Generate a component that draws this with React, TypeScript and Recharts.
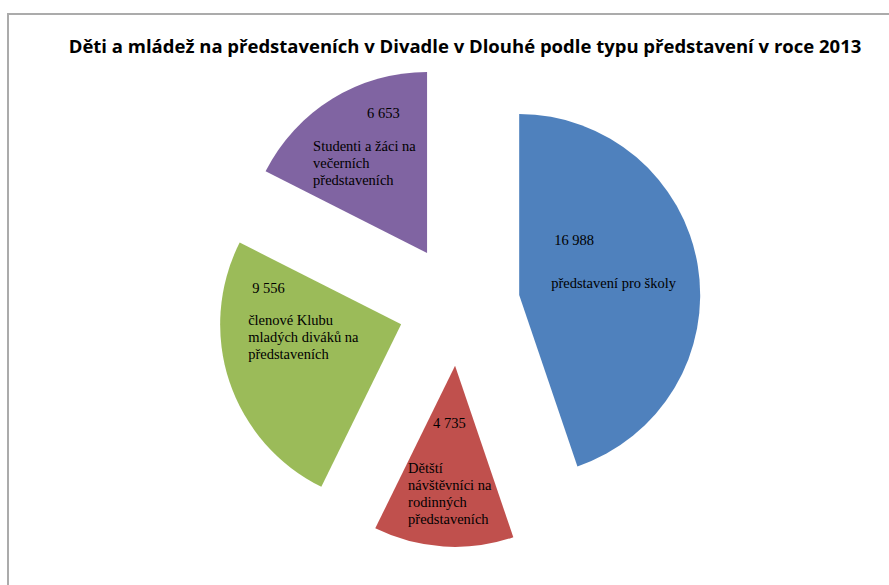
import { PieChart, Pie, Cell } from 'recharts'

// ---------------------------------------------------------------------------
// Data
// ---------------------------------------------------------------------------

const categories = [
  'představení pro školy',
  'Dětští návštěvníci na rodinných představeních',
  'členové Klubu mladých diváků na představeních',
  'Studenti a žáci na večerních představeních',
]

const values = [16988, 4735, 9556, 6653]

// label text as it wraps inside each slice
const labelLines = [
  ['představení pro školy'],
  ['Dětští', 'návštěvníci na', 'rodinných', 'představeních'],
  ['členové Klubu', 'mladých diváků na', 'představeních'],
  ['Studenti a žáci na', 'večerních', 'představeních'],
]

const COLORS = ['#4F81BD', '#C0504D', '#9BBB59', '#8064A2']

// label placement relative to the slice tip: value (vx, vy), text block (tx, ty)
const LABEL_POS = [
  { vx: 35, vy: -50, tx: 32, ty: -7 },
  { vx: -22, vy: 62, tx: -47, ty: 107 },
  { vx: -149, vy: -31, tx: -153, ty: 1 },
  { vx: -60, vy: -135, tx: -114, ty: -102 },
]

// ---------------------------------------------------------------------------
// Layout
// ---------------------------------------------------------------------------

const W = 889
const H = 585
const CX = 459
const CY = 305
const RADIUS = 181
const EXPLODE = 61
const LINE_H = 17

function formatNum(v: number): string {
  return v.toString().replace(/\B(?=(\d{3})+(?!\d))/g, ' ')
}

export default function App() {
  const total = values.reduce((a, b) => a + b, 0)

  // each slice is its own Pie so it can be pulled out from the centre
  let acc = 0
  const slices = values.map((v, i) => {
    const startDeg = (acc / total) * 360
    acc += v
    const endDeg = (acc / total) * 360
    const mid = ((startDeg + endDeg) / 2) * (Math.PI / 180)
    return {
      i,
      name: categories[i],
      value: v,
      start: 90 - startDeg,
      end: 90 - endDeg,
      cx: CX + EXPLODE * Math.sin(mid),
      cy: CY - EXPLODE * Math.cos(mid),
    }
  })

  return (
    <div style={{ position: 'absolute', left: 0, top: 0, width: W, height: H, background: '#fff' }}>
      <div
        style={{
          position: 'absolute',
          left: 7,
          top: 13,
          width: W,
          height: H,
          borderTop: '2px solid #ababab',
          borderLeft: '2px solid #ababab',
        }}
      />
      <div
        style={{
          position: 'absolute',
          left: 0,
          top: 33,
          width: 930,
          textAlign: 'center',
          fontFamily: '"Open Sans", sans-serif',
          fontWeight: 700,
          fontSize: 18.5,
          color: '#000',
          whiteSpace: 'nowrap',
        }}
      >
        Děti a mládež na představeních v Divadle v Dlouhé podle typu představení v roce 2013
      </div>
      <div style={{ position: 'absolute', left: 0, top: 0 }}>
        <PieChart width={W} height={H} margin={{ top: 0, right: 0, bottom: 0, left: 0 }}>
          {slices.map(s => {
            const pos = LABEL_POS[s.i]
            const lines = labelLines[s.i]
            return (
              <Pie
                key={s.name}
                data={[{ name: s.name, value: s.value }]}
                dataKey="value"
                nameKey="name"
                cx={s.cx}
                cy={s.cy}
                outerRadius={RADIUS}
                startAngle={s.start}
                endAngle={s.end}
                stroke="none"
                labelLine={false}
                isAnimationActive={false}
                label={() => (
                  <g style={{ fontFamily: '"Liberation Serif", serif', fontSize: 14.5 }} fill="#000">
                    <text x={s.cx + pos.vx} y={s.cy + pos.vy} fill="#000">
                      {formatNum(s.value)}
                    </text>
                    <text fill="#000">
                      {lines.map((ln, k) => (
                        <tspan key={k} x={s.cx + pos.tx} y={s.cy + pos.ty + k * LINE_H}>
                          {ln}
                        </tspan>
                      ))}
                    </text>
                  </g>
                )}
              >
                <Cell fill={COLORS[s.i]} />
              </Pie>
            )
          })}
        </PieChart>
      </div>
    </div>
  )
}
